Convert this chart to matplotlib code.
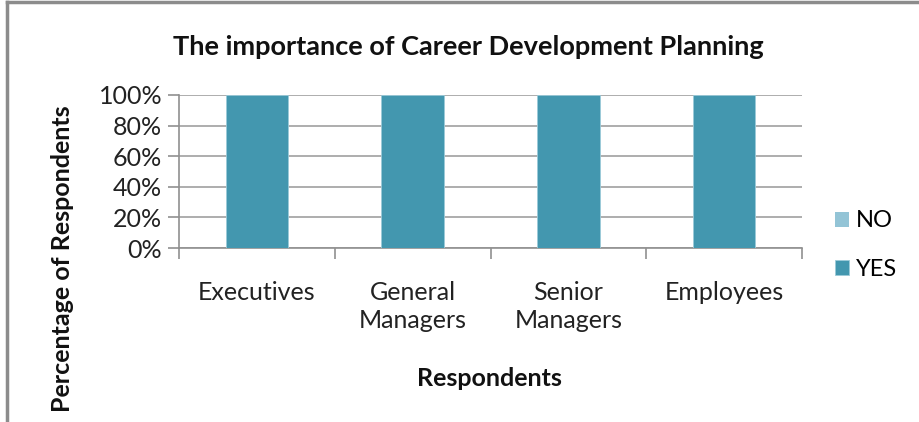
import matplotlib.pyplot as plt
from matplotlib.lines import Line2D

categories = ["Executives", "General\nManagers", "Senior\nManagers", "Employees"]
yes_values = [100, 100, 100, 100]
no_values = [0, 0, 0, 0]
y_ticks = [0, 20, 40, 60, 80, 100]

plt.rcParams['font.family'] = ['Lato', 'DejaVu Sans']

W, H = 919, 422
fig = plt.figure(figsize=(W / 100, H / 100), dpi=100)
ax = fig.add_axes([179 / W, 1 - 248 / H, (802 - 179) / W, (248 - 95) / H])

x = range(len(categories))
ax.bar(x, yes_values, width=0.4, color="#4397AF", edgecolor="#9ccbd9", linewidth=0.6, label="YES", zorder=3)
ax.bar(x, no_values, bottom=yes_values, width=0.4, color="#93C4D6", label="NO", zorder=3)

ax.set_xlim(-0.5, len(categories) - 0.5)
ax.set_ylim(0, 100)
ax.set_yticks(y_ticks)
ax.set_yticklabels([f"{v}%" for v in y_ticks], fontsize=18, color="#222222")
ax.yaxis.grid(True, color="#a0a0a0", linewidth=1.2, zorder=0)

# category boundary ticks, labels at centers
ax.set_xticks([i - 0.5 for i in range(len(categories) + 1)])
ax.set_xticklabels([])
ax.set_xticks(list(x), minor=True)
ax.set_xticklabels(categories, minor=True, fontsize=18, color="#222222", linespacing=1.25, va="top")
ax.tick_params(axis="x", which="minor", length=0, pad=24)
ax.tick_params(axis="x", which="major", length=8, color="#909090", width=1.2)
ax.tick_params(axis="y", length=8, color="#909090", width=1.2, pad=4)

for s in ["top", "right"]:
    ax.spines[s].set_visible(False)
for s in ["left", "bottom"]:
    ax.spines[s].set_color("#909090")
    ax.spines[s].set_linewidth(1.2)

fig.text(468 / W, 1 - 47 / H, "The importance of Career Development Planning",
         ha="center", va="center", fontsize=19.5, fontweight="bold", color="#111111")
fig.text(489 / W, 1 - 378 / H, "Respondents", ha="center", va="center",
         fontsize=18, fontweight="bold", color="#111111")
fig.text(63 / W, 1 - 259 / H, "Percentage of Respondents", ha="center", va="center",
         rotation=90, fontsize=18, fontweight="bold", color="#111111")

handles, labels = ax.get_legend_handles_labels()
leg = fig.legend(handles[::-1], labels[::-1], loc="center left", bbox_to_anchor=(830 / W, 1 - 245 / H),
                 frameon=False, fontsize=17, handlelength=0.6, handleheight=0.6,
                 handletextpad=0.3, labelspacing=1.15, borderpad=0.2, borderaxespad=0)

# chart border (top and left visible)
fig.add_artist(Line2D([7 / W, 1], [1 - 2 / H, 1 - 2 / H], color="#8c8c8c", linewidth=2.5))
fig.add_artist(Line2D([7 / W, 7 / W], [0, 1 - 2 / H], color="#8c8c8c", linewidth=2.5))

fig.savefig("out.png", dpi=100)
